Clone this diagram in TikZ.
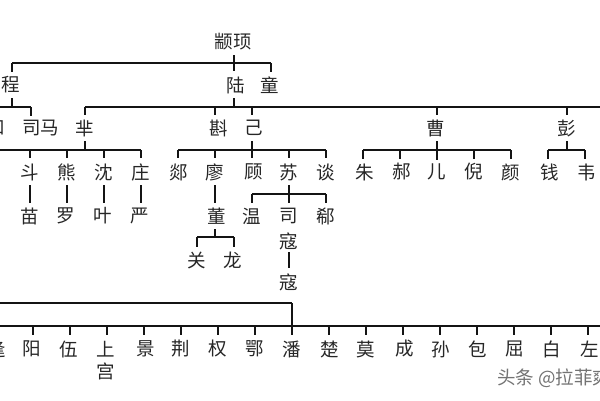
\documentclass[tikz,border=0pt]{standalone}
\usepackage{fontspec}
\setmainfont{Noto Sans CJK SC}
\tikzset{
  nm/.style={inner sep=0pt,outer sep=0pt,font=\fontsize{18.5}{18.5}\selectfont,text=black!85},
  ln/.style={line width=2.2pt,black!92},
  wm/.style={inner sep=0pt,anchor=west,font=\fontsize{18.5}{18.5}\selectfont,text=black!55}
}
\newcommand{\bus}[4]{% name, x1, x2, y
  \coordinate (#1L) at (#2,#4); \coordinate (#1R) at (#3,#4);
  \draw[ln] (#1L) -- (#1R);}
\begin{document}
\begin{tikzpicture}[x=1pt,y=-1pt]
\useasboundingbox (0,0) rectangle (600,400);
\fill[white] (0,0) rectangle (600,400);
\clip (0,0) rectangle (600,400);
% names
\foreach \n/\x/\y/\t in {
 zx/233/42/颛顼, cheng/11/85/程, lu/236/85/陆, tong/270/85/童,
 he/-4/128/和, sima/41/128/司马, mi/85/128/芈, zhen/219/128/斟, ji/254/128/己, cao/436/128/曹, peng/567/128/彭,
 dou/30/172/斗, xiong/67/172/熊, shen/104/172/沈, zhuang/141/172/庄,
 miao/30/216/苗, luo/66/216/罗, ye/103/216/叶, yan/140/216/严,
 tan/179/172/郯, liao/215/172/廖, gu/254/172/顾, su/289/172/苏, tanb/326/172/谈,
 dong/217/216/董, guan/197/260/关, long/233/260/龙,
 wen/252/216/温, si/289/216/司, kou/289/241/寇, xi/326/216/郗, koub/289/282/寇,
 zhu/365/172/朱, hao/402/172/郝, er/437/172/儿, ni/474/172/倪, yan2/511/172/颜, qian/550/172/钱, wei/587/172/韦,
 pang/-3/349/逢, yang/32/349/阳, wu/69/349/伍, shang/106/349/上, gong/106/371/宫, jing/146/349/景, jingb/181/349/荆, quan/218/349/权, e/255/349/鄂, pan/292/349/潘,
 chu/330/349/楚, mo/366/349/莫, cheng2/405/349/成, sun/441/349/孙, bao/478/349/包, qu/515/349/屈, bai/552/349/白, zuo/590/349/左}
 {\node[nm] (\n) at (\x,\y) {\t};}
% buses
\bus{a}{12}{271}{63}
\bus{b}{-5}{31}{107}
\bus{c}{85}{605}{107}
\bus{d}{-5}{141}{150}
\bus{f}{178}{326}{150}
\bus{g}{197}{234}{237}
\bus{h}{252}{326}{194}
\bus{i}{363}{511}{150}
\bus{j}{548}{585}{150}
\bus{k}{-5}{292}{303}
\bus{m}{-5}{605}{326}
% connectors
\foreach \xx/\ya/\yb in {
 234/55/71, 12/63/72, 271/63/72, 12/98/107, 31/107/116, 234/98/107,
 85/107/115, 215/107/115, 252/107/115, 437/107/115, 567/107/115,
 85/141/150, 30/150/158, 67/150/158, 104/150/158, 141/150/158,
 30/185/203, 67/185/203, 104/185/203, 141/185/203,
 252/141/158, 178/150/158, 215/150/158, 289/150/158, 326/150/158,
 215/185/203, 215/229/237, 197/237/247, 234/237/247,
 289/185/203, 252/194/203, 326/194/203, 289/252/268,
 437/141/160, 363/150/159, 400/150/159, 474/150/159, 511/150/159,
 567/141/150, 548/150/159, 585/150/159,
 292/303/335}
 {\coordinate (p) at (\xx,\ya); \coordinate (q) at (\xx,\yb); \draw[ln] (p) -- (q);}
\foreach \xx in {-4,33,70,107,144,181,218,255,329,366,403,440,477,514,551,588}
 {\coordinate (p) at (\xx,326); \coordinate (q) at (\xx,335); \draw[ln] (p) -- (q);}
% watermark
\node[wm] (mark) at (497,378) {头条 @拉菲爽};
\end{tikzpicture}
\end{document}
